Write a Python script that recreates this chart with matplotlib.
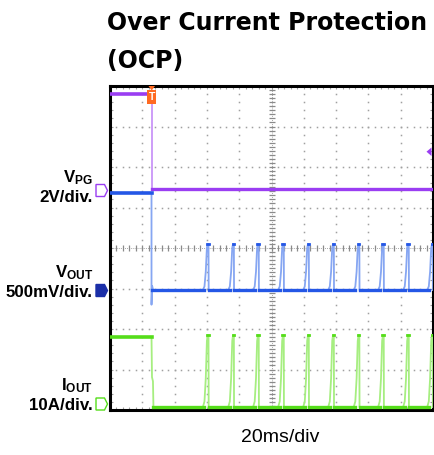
import matplotlib
matplotlib.use("Agg")
import matplotlib.pyplot as plt
import numpy as np
from matplotlib.patches import Polygon, Rectangle

plt.rcParams['font.family'] = ['Liberation Sans', 'DejaVu Sans']
plt.rcParams['mathtext.fontset'] = 'custom'
plt.rcParams['mathtext.rm'] = 'Liberation Sans:bold'
plt.rcParams['mathtext.bf'] = 'Liberation Sans:bold'
plt.rcParams['mathtext.it'] = 'Liberation Sans:bold'

# ---------------- data ----------------
title_lines = ["Over Current Protection", "(OCP)"]
channel_names = ["V", "V", "I"]
channel_subs = ["PG", "OUT", "OUT"]
scale_labels = ["2V/div.", "500mV/div.", "10A/div."]
time_label = "20ms/div"

time_per_div_ms = 20.0
vpg_per_div = 2.0          # V/div
vout_per_div = 0.5         # V/div
iout_per_div = 10.0        # A/div

t_event_ms = 25.7          # OCP event
vpg_levels = [4.7, 0.0]    # before / after (V)
vout_levels = [1.2, -0.18, 0.0, 0.57]   # before, undershoot, hiccup floor, hiccup peak (V)
iout_levels = [17.3, 7.4, 0.0, 17.8]    # before, mid-fall, floor, hiccup peak (A)

# hiccup pulse peak times (ms)
pulse_peaks_ms = [60.5, 76.2, 91.6, 107.1, 122.6, 138.1, 153.9, 169.0, 184.5, 199.4]
# pulse shape (time offset from peak in ms, fraction of peak height)
pulse_dt = [-3.0, -2.0, -1.2, -0.5, 0.0, 0.5, 0.6]
pulse_frac = [0.0, 0.08, 0.4, 0.92, 1.0, 1.0, 0.0]

# ground reference positions (divisions from bottom)
vpg_ground_div = 5.45
vout_ground_div = 2.96
iout_ground_div = 0.07

# ---------------- figure ----------------
W, H = 435, 455
fig = plt.figure(figsize=(W / 100, H / 100), dpi=100)
L, R, T, B = 110, 433, 86, 410
ax = fig.add_axes([L / W, 1 - B / H, (R - L) / W, (B - T) / H])
ax.set_xlim(0, 10 * time_per_div_ms)
ax.set_ylim(0, 8)

# grid dots
grid_c = '#a0a0a0'
for i in range(1, 10):
    if i == 5:
        continue
    ys = np.arange(1, 40) / 5.0
    ax.plot(np.full_like(ys, i * time_per_div_ms), ys, ls='none', marker='s',
            ms=1.1, mec='none', mfc=grid_c, zorder=1)
for j in range(1, 8):
    if j == 4:
        continue
    xs = np.arange(1, 50) / 5.0 * time_per_div_ms
    ax.plot(xs, np.full_like(xs, j), ls='none', marker='s',
            ms=1.1, mec='none', mfc=grid_c, zorder=1)
# edge ticks
ys = np.arange(1, 40) / 5.0
for xe in [0, 10 * time_per_div_ms]:
    ax.plot(np.full_like(ys, xe), ys, ls='none', marker='_', ms=5, mew=0.8, color='#a0a0a0', zorder=1)
xs = np.arange(1, 50) / 5.0 * time_per_div_ms
for ye in [0, 8]:
    ax.plot(xs, np.full_like(xs, ye), ls='none', marker='|', ms=5, mew=0.8, color='#a0a0a0', zorder=1)
# centre cross with ticks
ax.plot(xs, np.full_like(xs, 4), ls='none', marker='|', ms=5, mew=0.9, color='#8a8a8a', zorder=1)
ax.axhline(4, color='#8a8a8a', lw=0.6, ls=(0, (1, 1.5)), zorder=1)
ys = np.arange(1, 80) / 10.0
ax.plot(np.full_like(ys, 5 * time_per_div_ms), ys, ls='none', marker='_', ms=5, mew=0.9,
        color='#8a8a8a', zorder=1)
ax.axvline(5 * time_per_div_ms, color='#8a8a8a', lw=0.6, ls=(0, (1, 1.5)), zorder=1)

# ---------------- traces ----------------
def build_pulses(floor, peak):
    t, y = [], []
    for p in pulse_peaks_ms:
        for dt, fr in zip(pulse_dt, pulse_frac):
            t.append(p + dt)
            y.append(floor + fr * (peak - floor))
    return t, y

purple, purple_l = '#9a3df2', '#c58cf7'
blue, blue_l = '#2457e6', '#86a6f2'
green, green_l = '#55dd1a', '#a6ee80'

tmax = 10 * time_per_div_ms

# VPG
vpg_div = lambda v: vpg_ground_div + v / vpg_per_div
ax.plot([t_event_ms, t_event_ms], [vpg_div(vpg_levels[0]), vpg_div(vpg_levels[1])],
        color=purple_l, lw=1.2, zorder=3)
ax.plot([0, t_event_ms], [vpg_div(vpg_levels[0])] * 2, color=purple, lw=2.6, zorder=4)
ax.plot([t_event_ms, tmax], [vpg_div(vpg_levels[1])] * 2, color=purple, lw=2.4, zorder=4)

# VOUT
vo = lambda v: vout_ground_div + v / vout_per_div
pt, py = build_pulses(vout_levels[2], vout_levels[3])
vt = [0, t_event_ms, t_event_ms, t_event_ms + 0.4, t_event_ms + 1.0] + pt + [tmax]
vy = [vout_levels[0], vout_levels[0], vout_levels[1], vout_levels[2] + 0.05, vout_levels[2]] + py + [vout_levels[2]]
ax.plot(vt, [vo(v) for v in vy], color=blue_l, lw=1.3, zorder=3)
ax.plot([0, t_event_ms], [vo(vout_levels[0])] * 2, color=blue, lw=2.6, zorder=4)
floor_starts = [t_event_ms + 0.3] + [p + pulse_dt[-1] for p in pulse_peaks_ms[:-1]]
floor_ends = [p + pulse_dt[1] for p in pulse_peaks_ms]
for a, b in zip(floor_starts, floor_ends):
    ax.plot([a, b], [vo(vout_levels[2])] * 2, color=blue, lw=2.4, zorder=4)
for p in pulse_peaks_ms:
    ax.plot([p - 0.3, p + 0.5], [vo(vout_levels[3])] * 2, color=blue, lw=2.0, zorder=4)

# IOUT
io = lambda a: iout_ground_div + a / iout_per_div
pt, py = build_pulses(iout_levels[2], iout_levels[3])
it = [0, t_event_ms, t_event_ms + 0.3, t_event_ms + 0.9, t_event_ms + 1.2] + pt + [tmax]
iy = [iout_levels[0], iout_levels[0], iout_levels[1], iout_levels[1] - 1.0, iout_levels[2]] + py + [iout_levels[2]]
ax.plot(it, [io(v) for v in iy], color=green_l, lw=1.3, zorder=3)
ax.plot([0, t_event_ms], [io(iout_levels[0])] * 2, color=green, lw=2.6, zorder=4)
floor_starts = [t_event_ms + 1.0] + [p + pulse_dt[-1] for p in pulse_peaks_ms[:-1]]
for a, b in zip(floor_starts, floor_ends):
    ax.plot([a, b], [io(iout_levels[2])] * 2, color=green, lw=2.4, zorder=4)
for p in pulse_peaks_ms:
    ax.plot([p - 0.3, p + 0.5], [io(iout_levels[3])] * 2, color=green, lw=2.0, zorder=4)

# frame
for s in ax.spines.values():
    s.set_linewidth(2.2)
    s.set_color('black')
ax.set_xticks([])
ax.set_yticks([])

# ---------------- markers (pixel placement) ----------------
def px(x, y):
    return (x / W, 1 - y / H)

def tag(cx, cy, txt, edge, face, tcol):
    pts = [px(cx - 5, cy - 6), px(cx + 3.5, cy - 6), px(cx + 6.5, cy),
           px(cx + 3.5, cy + 6), px(cx - 5, cy + 6)]
    fig.patches.append(Polygon(pts, closed=True, transform=fig.transFigure,
                               facecolor=face, edgecolor=edge, lw=1.0, zorder=5))
    fig.text(*px(cx - 0.5, cy + 0.5), txt, ha='center', va='center', fontsize=8.5,
             color=tcol, fontweight='bold')

tag(101, 190.5, "3", purple, 'white', purple)
tag(101, 290.5, "1", '#1b2fa8', '#1b2fa8', 'white')
tag(101, 404, "4", green, 'white', green)

# trigger marker
fig.patches.append(Polygon([px(148.5, 86), px(155, 86), px(151.7, 90.5)], closed=True,
                           transform=fig.transFigure, facecolor='#ff6a22', edgecolor='none', zorder=6))
fig.patches.append(Rectangle(px(147.5, 104), 8.5 / W, 14 / H, transform=fig.transFigure,
                             facecolor='#ff6a22', edgecolor='none', zorder=6))
fig.text(*px(151.7, 97.5), "T", ha='center', va='center', fontsize=7.5, color='white',
         fontweight='bold', zorder=7)
# right-edge level arrow
fig.patches.append(Polygon([px(426.5, 151.7), px(431.5, 147.5), px(431.5, 156)], closed=True,
                           transform=fig.transFigure, facecolor=purple, edgecolor='none', zorder=6))

# ---------------- text ----------------
fig.text(*px(107, 30.5), title_lines[0], ha='left', va='baseline', fontsize=17,
         fontweight='bold', family='DejaVu Sans')
fig.text(*px(107, 68), title_lines[1], ha='left', va='baseline', fontsize=17,
         fontweight='bold', family='DejaVu Sans')

# channel label blocks: one text each (name with subscript + scale)
block_bottom_baseline = [201.5, 297, 410]
for nm, sb, sc, yb in zip(channel_names, channel_subs, scale_labels, block_bottom_baseline):
    label = "$\\mathbf{" + nm + "_{" + sb + "}}$\n" + sc
    fig.text(*px(93, yb), label, ha='right', va='baseline', multialignment='right',
             fontsize=12.2, fontweight='bold', linespacing=1.22)

fig.text(*px(280, 441.5), time_label, ha='center', va='baseline', fontsize=14)

fig.savefig("out.png", dpi=100)
